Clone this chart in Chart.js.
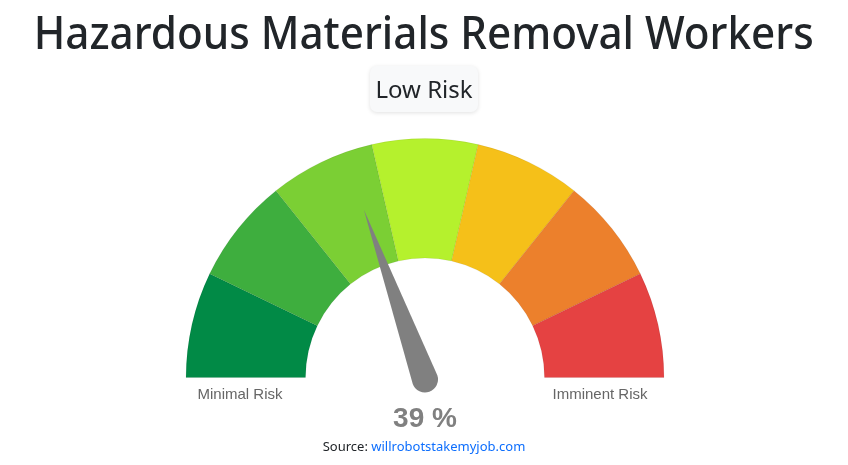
<!DOCTYPE html>
<html>
<head>
<meta charset="utf-8">
<script src="https://cdn.jsdelivr.net/npm/chart.js@4.4.1/dist/chart.umd.min.js"></script>
<style>
  html, body { margin: 0; padding: 0; background: #fff; }
  body { width: 848px; height: 465px; position: relative; overflow: hidden; font-family: "Noto Sans", "Open Sans", sans-serif; }
  #gauge { position: absolute; left: 0; top: 0; }
  h1 {
    position: absolute; left: 0; top: 0; width: 848px; margin: 0;
    text-align: center; font-weight: 500; font-size: 45px; line-height: 64px;
    color: #212529;
  }
  h1 span { display: inline-block; transform-origin: 50% 50%; white-space: nowrap; }
  .badge {
    position: absolute; left: 370px; top: 66px; width: 108px; height: 46px;
    background: #f8f9fa; border-radius: 7px;
    box-shadow: 0 1px 4px rgba(0,0,0,0.12);
    text-align: center; line-height: 46px; font-size: 24px; color: #212529;
  }
  .source {
    position: absolute; left: 0; top: 437px; width: 848px; text-align: center;
    font-size: 13px; color: #212529;
  }
  .source a { color: #0d6efd; text-decoration: none; }
</style>
</head>
<body>
<canvas id="gauge" width="848" height="465"></canvas>
<h1><span id="title">Hazardous Materials Removal Workers</span></h1>
<div class="badge">Low Risk</div>
<div class="source">Source: <a href="#">willrobotstakemyjob.com</a></div>
<script>
// gauge bands, all the same width
const bandValues = [1, 1, 1, 1, 1, 1, 1];
const bandColors = ['#018a46', '#3eae3e', '#7bcf34', '#b5f12d', '#f5c019', '#ec802c', '#e54242'];
const endLabels = ['Minimal Risk', 'Imminent Risk'];
const riskPercent = 39;

// squeeze the title to the width it has in the original
const titleEl = document.getElementById('title');
const titleW = titleEl.getBoundingClientRect().width;
if (titleW > 780) titleEl.style.transform = `scaleX(${780 / titleW})`;

const needlePlugin = {
    id: 'needle',
    afterDatasetsDraw(chart) {
        const ctx = chart.ctx;
        const arc = chart.getDatasetMeta(0).data[0];
        const cx = arc.x;
        const cy = arc.y;
        const outer = arc.outerRadius;

        // needle
        const angle = Math.PI + Math.PI * riskPercent / 100;
        const len = outer * 0.755;
        const baseR = 13;
        ctx.save();
        ctx.translate(cx, cy + 2);
        ctx.rotate(angle);
        ctx.fillStyle = '#808080';
        ctx.beginPath();
        ctx.moveTo(len, 0);
        ctx.lineTo(0, baseR);
        ctx.arc(0, 0, baseR, Math.PI / 2, Math.PI * 1.5);
        ctx.lineTo(len, 0);
        ctx.closePath();
        ctx.fill();
        ctx.restore();

        // end labels + value
        ctx.save();
        ctx.textAlign = 'center';
        ctx.textBaseline = 'middle';
        ctx.fillStyle = '#666';
        ctx.font = '15px "Liberation Sans", Arial, sans-serif';
        ctx.fillText(endLabels[0], cx - 185, cy + 17);
        ctx.fillText(endLabels[1], cx + 175, cy + 17);
        ctx.fillStyle = '#808080';
        ctx.font = 'bold 28px "Liberation Sans", Arial, sans-serif';
        ctx.fillText(riskPercent + ' %', cx, cy + 42);
        ctx.restore();
    }
};

new Chart(document.getElementById('gauge'), {
    type: 'doughnut',
    data: {
        labels: bandColors.map((c, i) => 'band ' + (i + 1)),
        datasets: [{
            data: bandValues,
            backgroundColor: bandColors,
            borderColor: 'rgba(0, 0, 0, 0.06)',
            borderWidth: 1
        }]
    },
    options: {
        responsive: false,
        animation: false,
        rotation: -90,
        circumference: 180,
        cutout: '50%',
        layout: { padding: { left: 185, right: 183, top: 138, bottom: 87 } },
        plugins: {
            legend: { display: false },
            tooltip: { enabled: false }
        }
    },
    plugins: [needlePlugin]
});
</script>
</body>
</html>
